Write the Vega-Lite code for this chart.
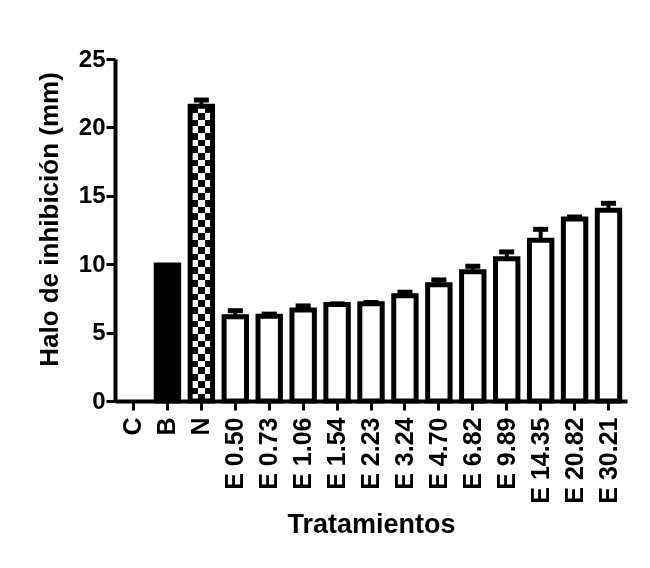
{
  "$schema": "https://vega.github.io/schema/vega-lite/v6.json",
  "autosize": {"type": "none"},
  "padding": {"left": 115, "top": 59, "right": 23, "bottom": 167},
  "width": 512,
  "height": 342,
  "background": "white",
  "config": {
    "view": {"stroke": null},
    "font": "Liberation Sans",
    "axis": {
      "grid": false,
      "domainColor": "black",
      "domainWidth": 4,
      "tickColor": "black",
      "tickWidth": 3,
      "tickSize": 9,
      "labelFont": "Liberation Sans",
      "labelFontWeight": "bold",
      "labelColor": "black",
      "titleFont": "Liberation Sans",
      "titleFontWeight": "bold",
      "titleColor": "black"
    }
  },
  "data": {
    "values": [
      {"trat": "C", "halo": 0, "sup": null, "tipo": "C"},
      {"trat": "B", "halo": 9.95, "sup": null, "tipo": "B"},
      {"trat": "N", "halo": 21.55, "sup": 22.0, "tipo": "N"},
      {"trat": "E 0.50", "halo": 6.15, "sup": 6.6, "tipo": "E"},
      {"trat": "E 0.73", "halo": 6.2, "sup": 6.35, "tipo": "E"},
      {"trat": "E 1.06", "halo": 6.65, "sup": 6.95, "tipo": "E"},
      {"trat": "E 1.54", "halo": 7.05, "sup": 7.1, "tipo": "E"},
      {"trat": "E 2.23", "halo": 7.1, "sup": 7.2, "tipo": "E"},
      {"trat": "E 3.24", "halo": 7.7, "sup": 7.95, "tipo": "E"},
      {"trat": "E 4.70", "halo": 8.5, "sup": 8.85, "tipo": "E"},
      {"trat": "E 6.82", "halo": 9.45, "sup": 9.85, "tipo": "E"},
      {"trat": "E 9.89", "halo": 10.4, "sup": 10.9, "tipo": "E"},
      {"trat": "E 14.35", "halo": 11.75, "sup": 12.55, "tipo": "E"},
      {"trat": "E 20.82", "halo": 13.3, "sup": 13.45, "tipo": "E"},
      {"trat": "E 30.21", "halo": 13.95, "sup": 14.45, "tipo": "E"}
    ]
  },
  "encoding": {
    "x": {
      "field": "trat",
      "type": "nominal",
      "sort": null,
      "scale": {
        "domain": ["C", "B", "N", "E 0.50", "E 0.73", "E 1.06", "E 1.54", "E 2.23", "E 3.24", "E 4.70", "E 6.82", "E 9.89", "E 14.35", "E 20.82", "E 30.21"],
        "paddingInner": 0.34,
        "paddingOuter": 0.215
      },
      "axis": {
        "title": "Tratamientos",
        "titleFontSize": 27,
        "titlePadding": 8,
        "labelFontSize": 25,
        "labelAngle": -90,
        "labelAlign": "right",
        "labelBaseline": "middle",
        "labelPadding": 7
      }
    },
    "y": {
      "field": "halo",
      "type": "quantitative",
      "scale": {"domain": [0, 25], "nice": false},
      "axis": {
        "title": "Halo de inhibición (mm)",
        "titleFontSize": 26,
        "titlePadding": 16,
        "titleY": 160,
        "values": [0, 5, 10, 15, 20, 25],
        "labelFontSize": 24,
        "labelPadding": 1
      }
    }
  },
  "layer": [
    {
      "transform": [{"filter": "datum.tipo == 'B' || datum.tipo == 'E'"}],
      "mark": {"type": "bar", "stroke": "black", "strokeWidth": 5},
      "encoding": {
        "fill": {
          "field": "tipo",
          "type": "nominal",
          "scale": {"domain": ["B", "E"], "range": ["black", "white"]},
          "legend": null
        }
      }
    },
    {
      "transform": [{"filter": "datum.tipo == 'N'"}],
      "mark": {
        "type": "bar",
        "fill": {
          "gradient": "linear", "x1": 0, "y1": 0, "x2": 1, "y2": 0,
          "stops": [
            {"offset": 0, "color": "black"}, {"offset": 0.3333, "color": "black"},
            {"offset": 0.3333, "color": "white"}, {"offset": 0.6667, "color": "white"},
            {"offset": 0.6667, "color": "black"}, {"offset": 1, "color": "black"}
          ]
        }
      }
    },
    {
      "transform": [{"filter": "datum.tipo == 'N'"}],
      "mark": {
        "type": "bar",
        "blend": "difference",
        "fill": {
          "gradient": "linear", "x1": 0, "y1": 0, "x2": 0, "y2": 1,
          "stops": [
            {"offset": 0, "color": "black"}, {"offset": 0.02273, "color": "black"},
            {"offset": 0.02273, "color": "white"}, {"offset": 0.04545, "color": "white"},
            {"offset": 0.04545, "color": "black"}, {"offset": 0.06818, "color": "black"},
            {"offset": 0.06818, "color": "white"}, {"offset": 0.09091, "color": "white"},
            {"offset": 0.09091, "color": "black"}, {"offset": 0.11364, "color": "black"},
            {"offset": 0.11364, "color": "white"}, {"offset": 0.13636, "color": "white"},
            {"offset": 0.13636, "color": "black"}, {"offset": 0.15909, "color": "black"},
            {"offset": 0.15909, "color": "white"}, {"offset": 0.18182, "color": "white"},
            {"offset": 0.18182, "color": "black"}, {"offset": 0.20455, "color": "black"},
            {"offset": 0.20455, "color": "white"}, {"offset": 0.22727, "color": "white"},
            {"offset": 0.22727, "color": "black"}, {"offset": 0.25, "color": "black"},
            {"offset": 0.25, "color": "white"}, {"offset": 0.27273, "color": "white"},
            {"offset": 0.27273, "color": "black"}, {"offset": 0.29545, "color": "black"},
            {"offset": 0.29545, "color": "white"}, {"offset": 0.31818, "color": "white"},
            {"offset": 0.31818, "color": "black"}, {"offset": 0.34091, "color": "black"},
            {"offset": 0.34091, "color": "white"}, {"offset": 0.36364, "color": "white"},
            {"offset": 0.36364, "color": "black"}, {"offset": 0.38636, "color": "black"},
            {"offset": 0.38636, "color": "white"}, {"offset": 0.40909, "color": "white"},
            {"offset": 0.40909, "color": "black"}, {"offset": 0.43182, "color": "black"},
            {"offset": 0.43182, "color": "white"}, {"offset": 0.45455, "color": "white"},
            {"offset": 0.45455, "color": "black"}, {"offset": 0.47727, "color": "black"},
            {"offset": 0.47727, "color": "white"}, {"offset": 0.5, "color": "white"},
            {"offset": 0.5, "color": "black"}, {"offset": 0.52273, "color": "black"},
            {"offset": 0.52273, "color": "white"}, {"offset": 0.54545, "color": "white"},
            {"offset": 0.54545, "color": "black"}, {"offset": 0.56818, "color": "black"},
            {"offset": 0.56818, "color": "white"}, {"offset": 0.59091, "color": "white"},
            {"offset": 0.59091, "color": "black"}, {"offset": 0.61364, "color": "black"},
            {"offset": 0.61364, "color": "white"}, {"offset": 0.63636, "color": "white"},
            {"offset": 0.63636, "color": "black"}, {"offset": 0.65909, "color": "black"},
            {"offset": 0.65909, "color": "white"}, {"offset": 0.68182, "color": "white"},
            {"offset": 0.68182, "color": "black"}, {"offset": 0.70455, "color": "black"},
            {"offset": 0.70455, "color": "white"}, {"offset": 0.72727, "color": "white"},
            {"offset": 0.72727, "color": "black"}, {"offset": 0.75, "color": "black"},
            {"offset": 0.75, "color": "white"}, {"offset": 0.77273, "color": "white"},
            {"offset": 0.77273, "color": "black"}, {"offset": 0.79545, "color": "black"},
            {"offset": 0.79545, "color": "white"}, {"offset": 0.81818, "color": "white"},
            {"offset": 0.81818, "color": "black"}, {"offset": 0.84091, "color": "black"},
            {"offset": 0.84091, "color": "white"}, {"offset": 0.86364, "color": "white"},
            {"offset": 0.86364, "color": "black"}, {"offset": 0.88636, "color": "black"},
            {"offset": 0.88636, "color": "white"}, {"offset": 0.90909, "color": "white"},
            {"offset": 0.90909, "color": "black"}, {"offset": 0.93182, "color": "black"},
            {"offset": 0.93182, "color": "white"}, {"offset": 0.95455, "color": "white"},
            {"offset": 0.95455, "color": "black"}, {"offset": 0.97727, "color": "black"},
            {"offset": 0.97727, "color": "white"}, {"offset": 1, "color": "white"}
          ]
        }
      }
    },
    {
      "transform": [{"filter": "datum.tipo == 'N'"}],
      "mark": {"type": "bar", "fill": null, "fillOpacity": 0, "stroke": "black", "strokeWidth": 5}
    },
    {
      "transform": [{"filter": "datum.sup != null"}],
      "mark": {"type": "rule", "color": "black", "strokeWidth": 4},
      "encoding": {"y2": {"field": "sup"}}
    },
    {
      "transform": [{"filter": "datum.sup != null"}],
      "mark": {"type": "tick", "color": "black", "thickness": 5, "size": 15, "opacity": 1},
      "encoding": {"y": {"field": "sup", "type": "quantitative"}}
    }
  ]
}
